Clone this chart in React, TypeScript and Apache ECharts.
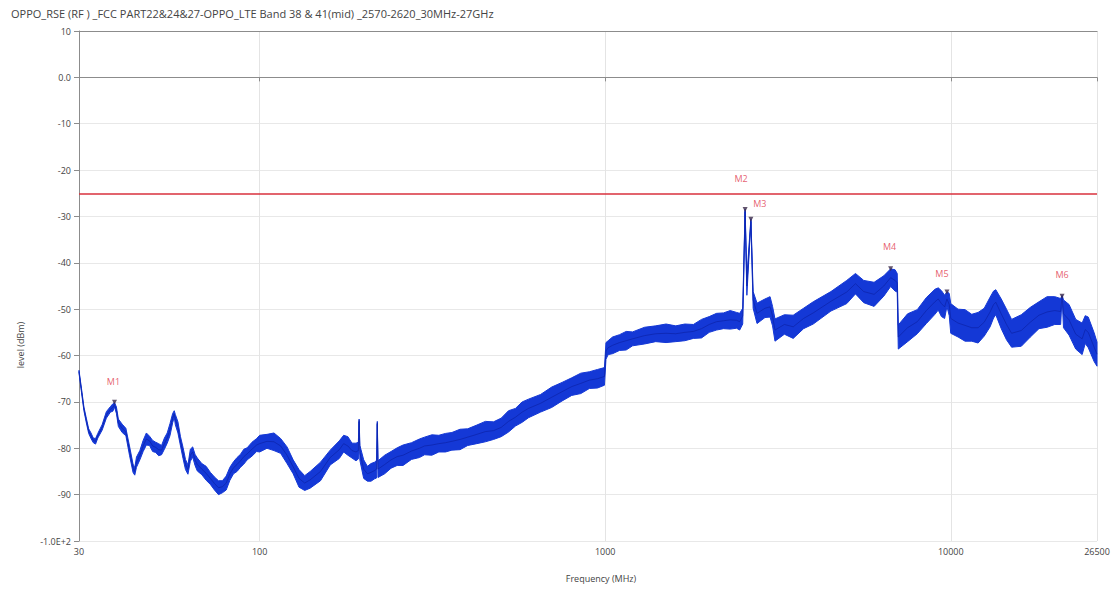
import React, { useEffect, useRef } from "react";
import * as echarts from "echarts";

const chartTitle =
  "OPPO_RSE (RF ) _FCC PART22&24&27-OPPO_LTE Band 38 & 41(mid) _2570-2620_30MHz-27GHz";

// Trace: frequency (MHz), centre level (dBm), half-width of the noise band (dB)
const freqMHz = [
  30, 30.5, 31, 31.5, 32, 32.5, 33, 33.5, 34, 35, 36, 37, 37.6, 38, 38.5, 39, 40, 41, 42, 43, 43.5, 44, 45, 46, 47, 48, 49, 50, 51, 52, 53, 54, 55, 56, 56.6, 57, 58, 59, 60, 61, 62, 63, 64, 65, 66, 68, 70, 72, 74, 76, 78, 80, 82, 84, 86, 88, 90, 92, 95, 98,
  100, 105, 110, 115, 120, 125, 130, 135, 140, 150, 160, 170, 175, 180, 185, 190, 193, 194, 195, 200, 205, 210, 215, 218, 219, 220, 230, 240, 250, 260, 275, 290, 300, 315, 330, 345, 360, 380, 400, 425, 450, 475, 500, 525, 550, 575, 600, 650, 700, 750, 800, 850, 900, 950, 995,
  1005, 1020, 1050, 1100, 1150, 1200, 1300, 1400, 1500, 1600, 1700, 1800, 1900, 2000, 2100, 2200, 2300, 2400, 2450, 2500, 2540, 2570, 2640, 2680, 2750, 2900, 3000, 3050, 3100, 3300, 3500, 3750, 4000, 4500, 5000, 5300, 5600, 6000, 6400, 6700, 6900, 7000, 7050, 7500, 8000, 8500, 9000, 9200, 9400, 9600, 9750, 9900,
  10000, 10500, 11000, 11500, 12000, 12500, 13000, 13300, 13500, 14000, 14500, 15000, 16000, 17000, 18000, 19000, 20000, 20800, 21000, 21200, 22000, 23000, 24000, 24500, 25000, 26000, 26500,
];
const levelDbm = [
  -63.5, -67.5, -71.5, -74, -76.3, -77.3, -78.3, -78.5, -77.3, -75.5, -72.8, -71.6, -71.2, -70.6, -71.8, -74.5, -75.7, -76.5, -80.5, -84.3, -85, -83, -81.5, -79.5, -78, -78.4, -79.5, -79.8, -80.3, -80.4, -79, -77.8, -76, -73.5, -72.6, -73.8, -75.5, -78.5, -81, -83.5, -84.6, -81.5, -80.8, -82.5, -83.5, -84.5, -85.4, -86.5, -87.6, -88.5, -88.3, -87.5, -85.5, -84.2, -83.5, -82.7, -81.8, -81.2, -80.2, -79.3,
  -79, -78.5, -78.6, -79.5, -81.5, -84, -86.5, -87.5, -86.8, -85, -82, -80.3, -79, -79.5, -80.5, -80.8, -80.5, -74, -81, -84.5, -85.5, -85.2, -84.8, -84.5, -74.5, -84.5, -83.5, -82.5, -81.8, -81.5, -80.6, -80, -79.5, -79.3, -79, -78.8, -78.5, -78.1, -77.6, -77, -76.4, -76.2, -75.5, -74.2, -73.3, -72.2, -71.4, -70.3, -69, -67.8, -66.7, -66, -65.3, -65, -64.5,
  -59, -58.3, -57.8, -57.2, -56.8, -56.4, -55.7, -55.3, -55.2, -55.3, -55, -54.8, -54.2, -53.3, -52.7, -52.5, -52.3, -52.4, -52.7, -51.5, -28.7, -45, -30.8, -48, -50.9, -49.8, -49.5, -51.5, -54.5, -53.3, -53.8, -52, -50.8, -48.3, -46.3, -44.5, -46.2, -46.8, -45, -43.2, -43.8, -44.3, -56, -54, -52.7, -50.3, -48.4, -47.8, -48.8, -49.5, -47.8, -49,
  -52, -53, -53.5, -54, -54, -52.8, -50.6, -49, -48.5, -51, -53.3, -55.2, -54.6, -52.8, -51.3, -50.6, -50.3, -50.5, -47.2, -51, -52.3, -55.4, -56.4, -54.4, -55, -58.2, -59.7,
];
const spreadDb = [
  0.3, 0.4, 0.4, 0.5, 0.5, 0.6, 0.5, 0.6, 0.5, 0.6, 0.7, 0.6, 0.8, 0.5, 0.7, 0.8, 0.9, 0.8, 1.0, 0.9, 0.8, 1.1, 1.0, 1.2, 1.3, 1.0, 1.2, 1.1, 1.3, 1.0, 1.2, 1.1, 1.3, 1.0, 0.7, 1.1, 1.2, 1.0, 1.2, 1.1, 1.0, 1.3, 1.1, 1.2, 1.4, 1.2, 1.5, 1.3, 1.4, 1.5, 1.3, 1.5, 1.4, 1.3, 1.5, 1.4, 1.6, 1.3, 1.5, 1.4,
  1.8, 1.5, 1.9, 1.6, 1.8, 1.5, 1.9, 1.6, 1.8, 2.0, 1.6, 1.9, 1.8, 2.0, 1.6, 1.9, 1.8, 0.3, 1.6, 2.0, 1.6, 1.9, 1.8, 1.9, 0.3, 1.8, 2.0, 1.8, 1.9, 2.2, 1.8, 2.0, 1.9, 2.2, 1.8, 2.0, 1.9, 2.2, 1.8, 2.0, 2.2, 1.9, 2.0, 2.3, 1.9, 2.2, 2.0, 1.9, 2.2, 2.0, 1.9, 2.2, 1.8, 2.0, 1.9,
  1.8, 1.5, 1.8, 1.7, 2.0, 1.5, 1.8, 1.7, 2.0, 1.7, 1.8, 1.5, 2.0, 1.7, 1.8, 1.7, 2.0, 1.7, 1.8, 1.7, 0.3, 2.0, 0.3, 1.8, 2.2, 2.0, 2.2, 2.1, 2.4, 2.1, 2.5, 2.2, 2.4, 2.1, 2.5, 2.2, 2.4, 2.6, 2.2, 1.9, 2.3, 2.0, 2.6, 3.0, 2.6, 2.8, 2.7, 2.4, 2.8, 2.5, 1.6, 2.4,
  3.2, 3.0, 3.4, 2.9, 3.3, 3.0, 3.2, 2.9, 2.7, 3.2, 3.3, 3.0, 3.4, 3.2, 2.9, 3.3, 3.0, 2.8, 0.2, 3.0, 3.3, 3.2, 3.4, 3.0, 3.3, 3.1, 2.6,
];

const limitDbm = [-25];

const markerNames = ["M1", "M2", "M3", "M4", "M5", "M6"];
const markerFreq = [38, 2540, 2640, 6700, 9750, 21000];
const markerLevel = [-70.1, -28.5, -30.6, -41.3, -46.3, -47.2];

const xTickLabels = [30, 100, 1000, 10000, 26500];

export default function App() {
  const ref = useRef<HTMLDivElement>(null);

  useEffect(() => {
    if (!ref.current) return;
    const chart = echarts.init(ref.current, null, { renderer: "svg" });
    const font = "'Open Sans', 'Noto Sans', sans-serif";
    const axisGray = "#8c8c8c";
    const labelOffsets = [
      [-1, -21],
      [-4, -31],
      [9, -16],
      [-1, -22],
      [-5, -19],
      [0, -22],
    ];

    chart.setOption({
      animation: false,
      backgroundColor: "#ffffff",
      textStyle: { fontFamily: font },
      title: {
        text: chartTitle,
        left: 6,
        top: 3,
        textStyle: { fontSize: 11, fontWeight: "normal", color: "#444", fontFamily: font },
      },
      grid: { left: 79, right: 21, top: 31, bottom: 49 },
      xAxis: [
        {
          type: "log",
          logBase: 10,
          min: 30,
          max: 26500,
          axisLine: { show: true, lineStyle: { color: axisGray } },
          axisTick: { show: true, length: 4, lineStyle: { color: axisGray } },
          minorTick: { show: false },
          axisLabel: {
            fontSize: 9,
            color: "#444",
            margin: 6,
            showMinLabel: true,
            showMaxLabel: true,
            formatter: (v: number) => {
              const r = Math.round(v);
              return xTickLabels.indexOf(r) >= 0 ? String(r) : "";
            },
          },
          splitLine: { show: true, lineStyle: { color: "#e4e4e4" } },
        },
        {
          type: "log",
          logBase: 10,
          min: 30,
          max: 26500,
          position: "top",
          axisLine: { show: true, lineStyle: { color: axisGray } },
          axisTick: { show: false },
          axisLabel: { show: false },
          splitLine: { show: false },
        },
      ],
      yAxis: {
        type: "value",
        min: -100,
        max: 10,
        interval: 10,
        axisLine: { show: true, lineStyle: { color: axisGray } },
        axisTick: { show: true, length: 5, lineStyle: { color: axisGray } },
        axisLabel: {
          fontSize: 9,
          color: "#444",
          margin: 8,
          formatter: (v: number) => (v === 0 ? "0.0" : v === -100 ? "-1.0E+2" : String(v)),
        },
        splitLine: { show: true, lineStyle: { color: "#e8e8e8" } },
      },
      graphic: [
        {
          type: "text",
          x: 20,
          y: 345,
          rotation: Math.PI / 2,
          style: {
            text: "level (dBm)",
            fontSize: 9,
            fill: "#444",
            fontFamily: font,
            textAlign: "center",
            textVerticalAlign: "middle",
          },
        },
        {
          type: "text",
          x: 601,
          y: 578,
          style: {
            text: "Frequency (MHz)",
            fontSize: 9,
            fill: "#444",
            fontFamily: font,
            textAlign: "center",
            textVerticalAlign: "middle",
          },
        },
      ],
      series: [
        {
          type: "custom",
          name: "band",
          coordinateSystem: "cartesian2d",
          silent: true,
          z: 2,
          data: [[freqMHz[0], levelDbm[0]]],
          encode: { x: 0, y: 1 },
          renderItem: (_params: any, api: any) => {
            const upper = freqMHz.map((f, i) => api.coord([f, levelDbm[i] + spreadDb[i]]));
            const lower = freqMHz
              .map((f, i) => api.coord([f, levelDbm[i] - spreadDb[i]]))
              .reverse();
            return {
              type: "polygon",
              shape: { points: upper.concat(lower) },
              style: { fill: "#1438d6", stroke: "#1438d6", lineWidth: 1 },
            };
          },
        },
        {
          type: "line",
          name: "trace",
          z: 3,
          symbol: "none",
          silent: true,
          data: freqMHz.map((f, i) => [f, levelDbm[i]]),
          lineStyle: { color: "#0c22a8", width: 1, opacity: 0.7 },
          markLine: {
            silent: true,
            symbol: ["none", "none"],
            label: { show: false },
            lineStyle: { color: "#d9303c", width: 1.5, type: "solid" },
            data: [{ yAxis: limitDbm[0] }],
          },
        },
        {
          type: "scatter",
          name: "markers",
          z: 5,
          symbol: "triangle",
          symbolRotate: 180,
          symbolSize: 5,
          itemStyle: { color: "#3b2b4a" },
          data: markerFreq.map((f, i) => ({
            value: [f, markerLevel[i]],
            name: markerNames[i],
            label: {
              show: true,
              position: "inside",
              offset: labelOffsets[i],
              formatter: markerNames[i],
              color: "#e0354a",
              fontSize: 9,
              fontFamily: font,
            },
          })),
        },
      ],
    });

    return () => chart.dispose();
  }, []);

  return (
    <div
      ref={ref}
      style={{ position: "fixed", left: 0, top: 0, width: 1118, height: 590 }}
    />
  );
}
